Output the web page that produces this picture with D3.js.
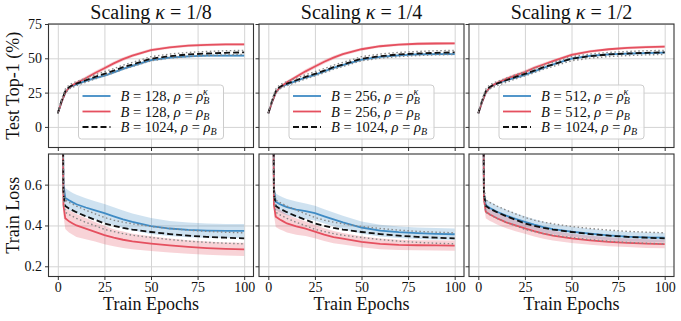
<!DOCTYPE html>
<html lang="en">
<head>
<meta charset="UTF-8">
<title>Scaling kappa - test accuracy and train loss</title>
<script src="https://d3js.org/d3.v7.min.js"></script>
<style>
  body { margin: 0; background: #fff; }
  svg text { font-family: "Liberation Serif", "DejaVu Serif", serif; fill: #111; }
</style>
</head>
<body>
<svg id="chart" width="681" height="321"></svg>
<script>
// ---- data ----
var accEpochs  = [0, 2, 4, 6, 8, 10, 15, 20, 25, 30, 35, 40, 50, 60, 70, 80, 90, 100];
var lossEpochs = [2, 3, 4, 6, 8, 10, 15, 20, 25, 30, 35, 40, 50, 60, 70, 80, 90, 100];

var kappaLabels = ["1/8", "1/4", "1/2"];
var batchLabels = ["128", "256", "512"];

// baseline B = 1024, rho = rho_B (same in every column)
var accBase     = [10, 19, 26, 29, 30.5, 31.5, 34, 36.5, 38.7, 41, 43.5, 45.5, 49.7, 51.6, 52.8, 53.5, 54, 54.3];
var accBaseStd  = [0.5, 1, 1.5, 1.5, 1.5, 1.5, 1.5, 1.5, 1.5, 1.5, 1.5, 1.5, 1.5, 1.5, 1.5, 1.5, 1.5, 1.5];
var lossBase    = [2.0, 0.56, 0.495, 0.483, 0.474, 0.465, 0.445, 0.428, 0.41, 0.398, 0.388, 0.38, 0.368, 0.358, 0.35, 0.344, 0.34, 0.337];
var lossBaseStd = [0.03, 0.03, 0.03, 0.03, 0.03, 0.03, 0.03, 0.029, 0.029, 0.028, 0.028, 0.028, 0.027, 0.027, 0.027, 0.027, 0.027, 0.027];

// kappa = 1/8
var accBlue1  = [10, 18, 25, 28.5, 30, 31, 33.5, 35.5, 37.3, 39.8, 42.3, 44.5, 48.6, 50.5, 51.4, 51.9, 52, 52];
var accRed1   = [10, 18, 25, 28.5, 30.5, 32, 35.5, 39.3, 42.8, 46.3, 49.4, 52, 56, 58, 59.2, 59.8, 60.1, 60.2];
var lossBlue1 = [2.0, 0.6, 0.535, 0.523, 0.513, 0.504, 0.488, 0.474, 0.46, 0.445, 0.43, 0.418, 0.397, 0.385, 0.378, 0.375, 0.373, 0.373];
var lossRed1  = [2.0, 0.5, 0.435, 0.42, 0.41, 0.4, 0.385, 0.369, 0.353, 0.34, 0.33, 0.322, 0.311, 0.302, 0.295, 0.289, 0.285, 0.283];
var lossBlueStd1 = [0.05, 0.05, 0.048, 0.047, 0.046, 0.046, 0.045, 0.045, 0.045, 0.044, 0.043, 0.041, 0.039, 0.037, 0.036, 0.035, 0.034, 0.034];
var lossRedStd1  = [0.05, 0.05, 0.052, 0.055, 0.056, 0.056, 0.052, 0.048, 0.045, 0.042, 0.04, 0.038, 0.036, 0.034, 0.033, 0.033, 0.032, 0.032];

// kappa = 1/4
var accBlue2  = [10, 18, 25, 28.5, 30, 31, 33.5, 36, 38, 40.5, 43, 45, 49, 51, 52.2, 52.8, 53, 53.1];
var accRed2   = [10, 18, 25, 28.5, 30.5, 32.5, 36.5, 40.5, 44, 47.5, 50.5, 53, 56.6, 58.8, 60, 60.6, 60.8, 60.9];
var lossBlue2 = [2.0, 0.58, 0.516, 0.505, 0.497, 0.49, 0.478, 0.47, 0.46, 0.445, 0.43, 0.415, 0.39, 0.375, 0.367, 0.362, 0.359, 0.357];
var lossRed2  = [2.0, 0.5, 0.443, 0.43, 0.42, 0.41, 0.395, 0.384, 0.37, 0.355, 0.343, 0.335, 0.32, 0.31, 0.305, 0.303, 0.302, 0.301];
var lossBlueStd2 = [0.04, 0.04, 0.04, 0.04, 0.04, 0.04, 0.039, 0.038, 0.036, 0.035, 0.034, 0.032, 0.03, 0.029, 0.028, 0.028, 0.028, 0.028];
var lossRedStd2  = [0.05, 0.05, 0.05, 0.048, 0.046, 0.044, 0.04, 0.036, 0.033, 0.031, 0.03, 0.028, 0.027, 0.026, 0.025, 0.025, 0.025, 0.025];

// kappa = 1/2
var accBlue3  = [10, 18, 25, 28.5, 30.5, 31.5, 34, 36, 38, 40.5, 43, 45.5, 49.8, 51.8, 52.8, 53.4, 53.8, 54.1];
var accRed3   = [10, 18, 25, 28.5, 30.5, 32, 35, 37.5, 40, 43, 45.5, 48, 52.5, 55, 56.6, 57.6, 58.2, 58.5];
var lossBlue3 = [2.0, 0.56, 0.5, 0.487, 0.477, 0.467, 0.448, 0.432, 0.418, 0.404, 0.392, 0.382, 0.37, 0.36, 0.351, 0.345, 0.342, 0.34];
var lossRed3  = [2.0, 0.53, 0.467, 0.455, 0.445, 0.435, 0.415, 0.4, 0.386, 0.372, 0.36, 0.35, 0.337, 0.327, 0.32, 0.315, 0.311, 0.309];
var lossBlueStd3 = [0.03, 0.03, 0.03, 0.03, 0.03, 0.03, 0.029, 0.028, 0.027, 0.026, 0.026, 0.025, 0.024, 0.024, 0.023, 0.023, 0.023, 0.023];
var lossRedStd3  = [0.03, 0.03, 0.032, 0.032, 0.031, 0.03, 0.029, 0.028, 0.027, 0.026, 0.025, 0.024, 0.023, 0.022, 0.022, 0.021, 0.021, 0.021];

var accStdBlue = [0.4, 0.7, 0.9, 1, 1, 1, 1, 1, 1, 1, 1, 1, 0.9, 0.9, 0.8, 0.8, 0.8, 0.8];
var accStdRed  = [0.4, 0.7, 0.9, 1.1, 1.2, 1.3, 1.4, 1.5, 1.5, 1.4, 1.3, 1.2, 1.1, 1, 1, 1, 1, 1];

var accBlue = [accBlue1, accBlue2, accBlue3];
var accRed = [accRed1, accRed2, accRed3];
var lossBlue = [lossBlue1, lossBlue2, lossBlue3];
var lossRed = [lossRed1, lossRed2, lossRed3];
var lossBlueStd = [lossBlueStd1, lossBlueStd2, lossBlueStd3];
var lossRedStd = [lossRedStd1, lossRedStd2, lossRedStd3];

// ---- layout ----
var serif = '"Liberation Serif", "DejaVu Serif", serif';
var blue = "#3f8bc4", red = "#e5505f";
var colLeft = [48.5, 259, 469];
var panelW = 205;
var rows = [{top: 24, h: 123.5}, {top: 154, h: 122.5}];

var svg = d3.select("#chart");
var x = d3.scaleLinear().domain([-5, 105]).range([0, panelW]);
var yAcc = d3.scaleLinear().domain([-15, 75]).range([rows[0].h, 0]);
var yLoss = d3.scaleLinear().domain([0.15, 0.75]).range([rows[1].h, 0]);

function drawPanel(col, r) {
  var row = rows[r];
  var y = r == 0 ? yAcc : yLoss;
  var ep = r == 0 ? accEpochs : lossEpochs;
  var g = svg.append("g").attr("transform", "translate(" + colLeft[col] + "," + row.top + ")");

  var clipId = "clip" + col + "_" + r;
  g.append("clipPath").attr("id", clipId)
    .append("rect").attr("width", panelW).attr("height", row.h);

  // grid
  g.append("g").attr("class", "grid")
    .call(d3.axisBottom(x).tickValues([0, 25, 50, 75, 100]).tickSize(row.h).tickFormat(""))
    .call(function(s) { s.select(".domain").remove(); });
  var yTicks = r == 0 ? [0, 25, 50, 75] : [0.2, 0.4, 0.6];
  g.append("g").attr("class", "grid")
    .call(d3.axisRight(y).tickValues(yTicks).tickSize(panelW).tickFormat(""))
    .call(function(s) { s.select(".domain").remove(); });
  g.selectAll(".grid line").attr("stroke", "#d4d4d4").attr("stroke-width", 1);

  var plot = g.append("g").attr("clip-path", "url(#" + clipId + ")");

  function band(mean, std, color) {
    var area = d3.area()
      .x(function(d, i) { return x(ep[i]); })
      .y0(function(d, i) { return y(mean[i] - std[i]); })
      .y1(function(d, i) { return y(mean[i] + std[i]); });
    plot.append("path").datum(mean).attr("d", area)
      .attr("fill", color).attr("fill-opacity", 0.25).attr("stroke", "none");
  }
  function curve(vals, color, dash, width) {
    var line = d3.line().x(function(d, i) { return x(ep[i]); }).y(function(d) { return y(d); });
    plot.append("path").datum(vals).attr("d", line)
      .attr("fill", "none").attr("stroke", color).attr("stroke-width", width)
      .attr("stroke-dasharray", dash);
  }

  var b = r == 0 ? accBlue[col] : lossBlue[col];
  var rd = r == 0 ? accRed[col] : lossRed[col];
  var bs = r == 0 ? accStdBlue : lossBlueStd[col];
  var rs = r == 0 ? accStdRed : lossRedStd[col];
  var base = r == 0 ? accBase : lossBase;
  var baseStd = r == 0 ? accBaseStd : lossBaseStd;

  band(b, bs, blue);
  band(rd, rs, red);
  curve(b, blue, null, 1.8);
  curve(rd, red, null, 1.8);
  curve(base, "#111", "6,3", 1.8);
  curve(base.map(function(d, i) { return d + baseStd[i]; }), "#888", "1.5,2.5", 1.4);
  curve(base.map(function(d, i) { return d - baseStd[i]; }), "#888", "1.5,2.5", 1.4);

  // axes
  var xAxis = d3.axisBottom(x).tickValues([0, 25, 50, 75, 100]).tickSize(3.5).tickSizeOuter(0).tickPadding(2);
  if (r == 0) xAxis.tickFormat("");
  var ax = g.append("g").attr("transform", "translate(0," + row.h + ")").call(xAxis);
  var yAxis = d3.axisLeft(y).tickValues(yTicks).tickSize(3.5).tickSizeOuter(0).tickPadding(3)
    .tickFormat(r == 0 ? d3.format("d") : d3.format(".1f"));
  if (col > 0) yAxis.tickFormat("");
  var ay = g.append("g").call(yAxis);
  [ax, ay].forEach(function(a) {
    a.attr("font-family", serif).attr("font-size", 14);
    a.select(".domain").remove();
    a.selectAll("line").attr("stroke", "#333");
    a.selectAll("text").style("font-family", serif).style("font-size", "14px").attr("fill", "#111");
  });

  // frame
  g.append("rect").attr("width", panelW).attr("height", row.h)
    .attr("fill", "none").attr("stroke", "#333").attr("stroke-width", 1.1);

  if (r == 0) {
    var t = g.append("text").attr("x", panelW / 2).attr("y", -5)
      .attr("text-anchor", "middle").style("font-size", "20px");
    t.append("tspan").text("Scaling ");
    t.append("tspan").attr("font-style", "italic").text("\u03ba");
    t.append("tspan").text(" = " + kappaLabels[col]);
    drawLegend(g, col);
  } else {
    g.append("text").attr("x", panelW / 2).attr("y", row.h + 33)
      .attr("text-anchor", "middle").style("font-size", "18px").text("Train Epochs");
  }
}

function drawLegend(g, col) {
  var lw = 145, lh = 54;
  var lx = panelW / 2 - lw / 2, ly = 61;
  var leg = g.append("g").attr("transform", "translate(" + lx + "," + ly + ")");
  leg.append("rect").attr("width", lw).attr("height", lh).attr("rx", 3)
    .attr("fill", "#fff").attr("fill-opacity", 0.8).attr("stroke", "#ccc").attr("stroke-width", 1);
  var items = [
    {b: batchLabels[col], color: blue, dash: null, sup: true},
    {b: batchLabels[col], color: red, dash: null, sup: false},
    {b: "1024", color: "#111", dash: "6,3", sup: false}
  ];
  items.forEach(function(it, i) {
    var cy = 11 + i * 15.5;
    leg.append("line").attr("x1", 4).attr("x2", 32).attr("y1", cy).attr("y2", cy)
      .attr("stroke", it.color).attr("stroke-width", 1.8).attr("stroke-dasharray", it.dash);
    var t = leg.append("text").attr("x", 42).attr("y", cy + 5).style("font-size", "14.5px");
    t.append("tspan").attr("font-style", "italic").text("B");
    t.append("tspan").text(" = " + it.b + ", ");
    t.append("tspan").attr("font-style", "italic").text("\u03c1");
    t.append("tspan").text(" = ");
    t.append("tspan").attr("font-style", "italic").text("\u03c1");
    t.append("tspan").attr("font-style", "italic").attr("dy", 3).style("font-size", "10px").text("B");
    if (it.sup) {
      t.append("tspan").attr("font-style", "italic").attr("dx", -6.2).attr("dy", -9.5)
        .style("font-size", "10px").text("\u03ba");
    }
  });
}

for (var c = 0; c < 3; c++) {
  drawPanel(c, 0);
  drawPanel(c, 1);
}

// y labels
svg.append("text").attr("transform", "translate(19," + (rows[0].top + rows[0].h / 2) + ") rotate(-90)")
  .attr("text-anchor", "middle").style("font-size", "18px").text("Test Top-1 (%)");
svg.append("text").attr("transform", "translate(19," + (rows[1].top + rows[1].h / 2) + ") rotate(-90)")
  .attr("text-anchor", "middle").style("font-size", "18px").text("Train Loss");
</script>
</body>
</html>
